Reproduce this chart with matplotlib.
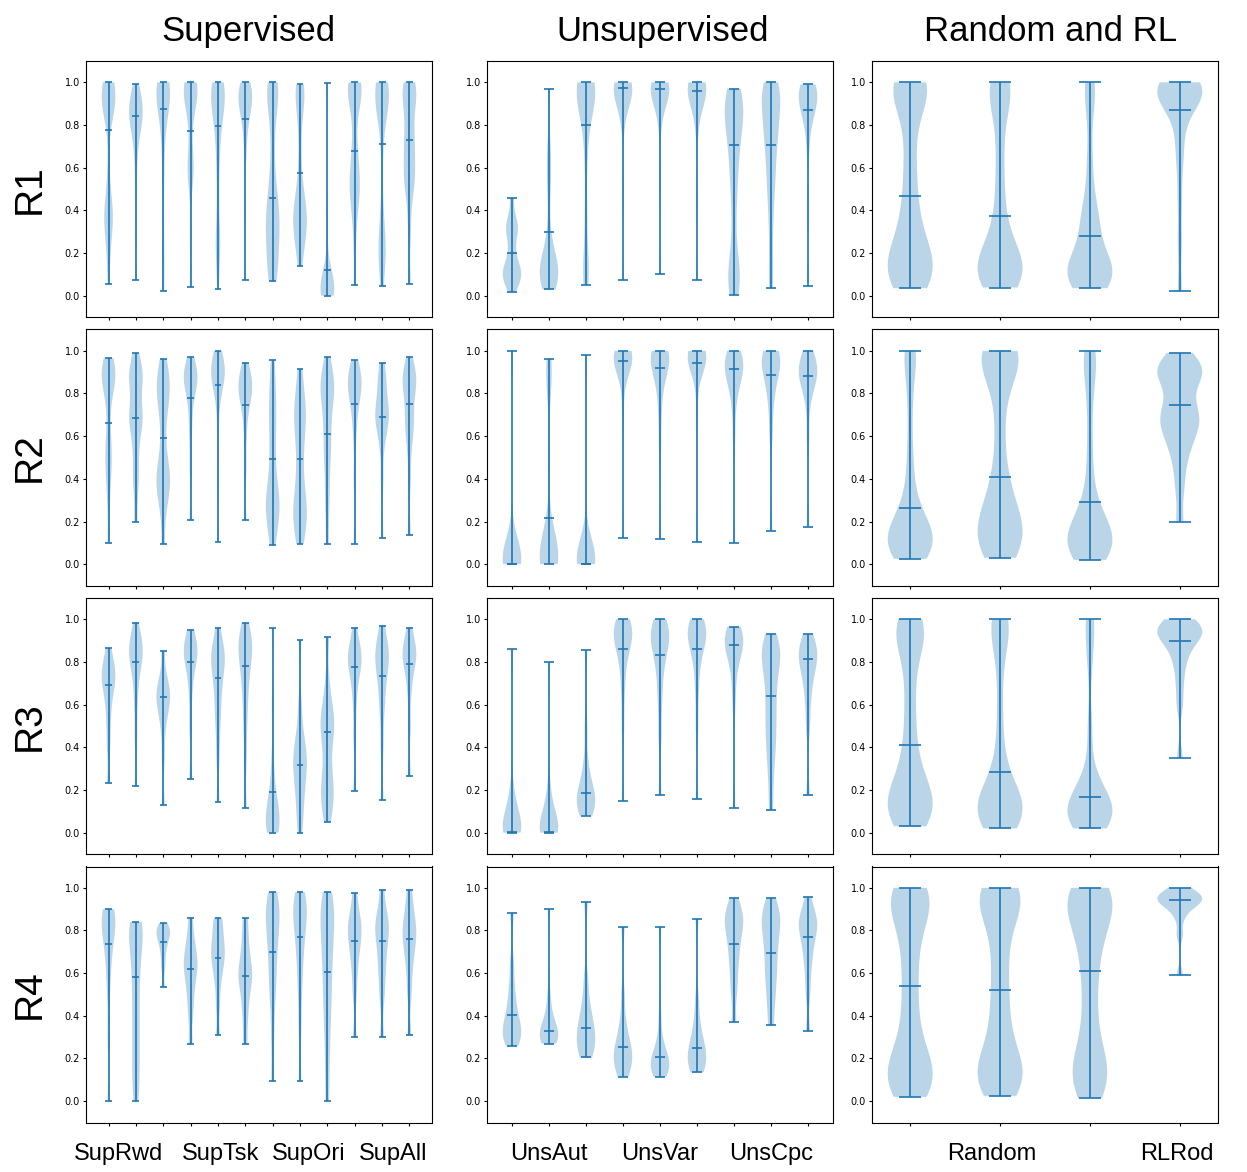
import numpy as np
import matplotlib
matplotlib.use('Agg')
import matplotlib.pyplot as plt
import matplotlib.transforms as mtransforms
from matplotlib import cbook, mlab

plt.rcParams['lines.linewidth'] = 1.2

############ [Data] ##############
# samples per violin, and the mean marker of each violin
r1_sup = [
    [0.055, 0.2, 0.3, 0.34, 0.37, 0.38, 0.4, 0.44, 0.6, 0.85, 0.88, 0.9, 0.92, 0.93, 0.94, 0.95, 0.97, 0.99, 1.0],
    [0.075, 0.3, 0.5, 0.62, 0.7, 0.75, 0.78, 0.8, 0.82, 0.84, 0.85, 0.86, 0.87, 0.88, 0.9, 0.92, 0.94, 0.96, 0.99],
    [0.02, 0.15, 0.3, 0.5, 0.65, 0.75, 0.82, 0.86, 0.89, 0.92, 0.94, 0.95, 0.96, 0.97, 0.98, 0.99, 1.0, 1.0],
    [0.04, 0.3, 0.55, 0.58, 0.6, 0.63, 0.75, 0.85, 0.9, 0.93, 0.95, 0.96, 0.97, 0.98, 0.99, 1.0, 1.0],
    [0.03, 0.2, 0.25, 0.28, 0.45, 0.6, 0.7, 0.78, 0.83, 0.87, 0.9, 0.92, 0.94, 0.96, 0.97, 0.98, 0.99, 1.0],
    [0.075, 0.4, 0.65, 0.75, 0.8, 0.84, 0.87, 0.89, 0.91, 0.92, 0.93, 0.94, 0.95, 0.96, 0.97, 0.98, 1.0],
    [0.07, 0.1, 0.15, 0.2, 0.25, 0.3, 0.33, 0.36, 0.4, 0.44, 0.5, 0.6, 0.75, 0.88, 0.93, 0.96, 0.98, 1.0],
    [0.14, 0.22, 0.27, 0.3, 0.33, 0.35, 0.37, 0.4, 0.43, 0.47, 0.55, 0.7, 0.85, 0.92, 0.95, 0.97, 0.99],
    [0.0, 0.0, 0.0, 0.01, 0.02, 0.03, 0.04, 0.05, 0.06, 0.08, 0.1, 0.35, 0.995],
    [0.05, 0.25, 0.38, 0.43, 0.47, 0.5, 0.53, 0.56, 0.6, 0.65, 0.7, 0.8, 0.9, 0.93, 0.95, 0.97, 0.98, 0.99, 1.0, 1.0],
    [0.045, 0.15, 0.19, 0.22, 0.25, 0.28, 0.4, 0.6, 0.8, 0.86, 0.9, 0.92, 0.94, 0.95, 0.96, 0.97, 0.98, 0.99, 1.0],
    [0.055, 0.3, 0.45, 0.52, 0.55, 0.58, 0.62, 0.68, 0.72, 0.75, 0.8, 0.88, 0.92, 0.95, 0.97, 0.98, 1.0],
]
r1_sup_mean = [0.775, 0.84, 0.875, 0.77, 0.795, 0.83, 0.46, 0.575, 0.12, 0.68, 0.71, 0.73]

r1_uns = [
    [0.015, 0.05, 0.07, 0.09, 0.1, 0.11, 0.13, 0.15, 0.18, 0.22, 0.27, 0.3, 0.32, 0.34, 0.38, 0.46],
    [0.03, 0.06, 0.08, 0.09, 0.1, 0.11, 0.12, 0.14, 0.17, 0.2, 0.3, 0.5, 0.6, 0.7, 0.97],
    [0.05, 0.12, 0.18, 0.4, 0.65, 0.8, 0.87, 0.91, 0.94, 0.96, 0.97, 0.98, 0.99, 1.0, 1.0],
    [0.075, 0.5, 0.8, 0.88, 0.92, 0.94, 0.95, 0.96, 0.97, 0.98, 0.98, 0.99, 0.99, 1.0, 1.0],
    [0.1, 0.55, 0.8, 0.88, 0.92, 0.94, 0.95, 0.96, 0.97, 0.98, 0.98, 0.99, 0.99, 1.0, 1.0],
    [0.075, 0.45, 0.78, 0.87, 0.91, 0.93, 0.95, 0.96, 0.97, 0.98, 0.98, 0.99, 0.99, 1.0, 1.0],
    [0.005, 0.05, 0.08, 0.1, 0.13, 0.25, 0.4, 0.5, 0.58, 0.65, 0.7, 0.75, 0.8, 0.83, 0.86, 0.88, 0.9, 0.92, 0.95, 0.97],
    [0.035, 0.15, 0.3, 0.42, 0.5, 0.56, 0.62, 0.68, 0.72, 0.76, 0.8, 0.83, 0.86, 0.9, 0.93, 0.95, 0.97, 0.99, 1.0],
    [0.045, 0.4, 0.7, 0.8, 0.85, 0.88, 0.9, 0.92, 0.93, 0.94, 0.95, 0.96, 0.97, 0.98, 0.99],
]
r1_uns_mean = [0.2, 0.3, 0.8, 0.975, 0.97, 0.96, 0.705, 0.705, 0.87]

r1_rl = [
    [0.035, 0.05, 0.08, 0.1, 0.12, 0.14, 0.16, 0.18, 0.22, 0.27, 0.33, 0.4, 0.5, 0.6, 0.72, 0.85, 0.93, 0.96, 0.98, 0.99, 1.0, 1.0],
    [0.038, 0.06, 0.08, 0.1, 0.11, 0.12, 0.13, 0.15, 0.17, 0.2, 0.25, 0.32, 0.42, 0.55, 0.7, 0.85, 0.93, 0.97, 0.99, 1.0],
    [0.035, 0.05, 0.07, 0.08, 0.09, 0.1, 0.11, 0.12, 0.13, 0.15, 0.18, 0.22, 0.28, 0.33, 0.36, 0.4, 0.5, 0.65, 0.85, 0.97, 1.0],
    [0.02, 0.25, 0.45, 0.62, 0.7, 0.8, 0.87, 0.9, 0.92, 0.94, 0.95, 0.96, 0.97, 0.97, 0.98, 0.98, 0.99, 1.0, 1.0],
]
r1_rl_mean = [0.465, 0.373, 0.28, 0.87]

r2_sup = [
    [0.1, 0.3, 0.4, 0.45, 0.5, 0.55, 0.6, 0.7, 0.8, 0.84, 0.86, 0.88, 0.89, 0.9, 0.92, 0.94, 0.965],
    [0.2, 0.35, 0.42, 0.5, 0.58, 0.64, 0.67, 0.69, 0.71, 0.75, 0.82, 0.86, 0.88, 0.9, 0.92, 0.99],
    [0.095, 0.25, 0.32, 0.36, 0.39, 0.41, 0.44, 0.5, 0.6, 0.7, 0.76, 0.8, 0.83, 0.86, 0.9, 0.96],
    [0.205, 0.45, 0.6, 0.7, 0.78, 0.82, 0.85, 0.87, 0.88, 0.89, 0.9, 0.92, 0.97],
    [0.105, 0.4, 0.6, 0.75, 0.82, 0.86, 0.88, 0.89, 0.9, 0.91, 0.92, 0.94, 0.97, 1.0],
    [0.205, 0.45, 0.6, 0.7, 0.75, 0.78, 0.8, 0.82, 0.84, 0.86, 0.88, 0.9, 0.945],
    [0.09, 0.16, 0.2, 0.24, 0.27, 0.29, 0.32, 0.36, 0.42, 0.5, 0.58, 0.65, 0.72, 0.78, 0.85, 0.955],
    [0.095, 0.15, 0.2, 0.23, 0.26, 0.3, 0.35, 0.42, 0.5, 0.58, 0.63, 0.68, 0.72, 0.76, 0.82, 0.915],
    [0.095, 0.25, 0.35, 0.45, 0.52, 0.58, 0.64, 0.7, 0.76, 0.8, 0.82, 0.84, 0.87, 0.9, 0.97],
    [0.095, 0.4, 0.6, 0.7, 0.76, 0.8, 0.83, 0.85, 0.86, 0.88, 0.9, 0.955],
    [0.125, 0.4, 0.55, 0.62, 0.66, 0.68, 0.7, 0.72, 0.75, 0.8, 0.85, 0.88, 0.945],
    [0.135, 0.4, 0.55, 0.62, 0.66, 0.7, 0.76, 0.82, 0.85, 0.87, 0.88, 0.9, 0.97],
]
r2_sup_mean = [0.66, 0.685, 0.59, 0.78, 0.84, 0.745, 0.495, 0.495, 0.61, 0.75, 0.69, 0.75]

r2_uns = [
    [0.0, 0.0, 0.0, 0.0, 0.01, 0.02, 0.03, 0.05, 0.08, 0.12, 1.0],
    [0.0, 0.0, 0.0, 0.01, 0.02, 0.03, 0.05, 0.07, 0.1, 0.14, 0.5, 0.85, 0.9, 0.96],
    [0.0, 0.0, 0.0, 0.0, 0.01, 0.02, 0.03, 0.05, 0.08, 0.12, 0.98],
    [0.125, 0.7, 0.85, 0.9, 0.93, 0.95, 0.96, 0.97, 0.97, 0.98, 0.98, 0.99, 1.0, 1.0],
    [0.12, 0.55, 0.7, 0.8, 0.86, 0.9, 0.93, 0.95, 0.96, 0.97, 0.98, 0.99, 1.0, 1.0],
    [0.105, 0.7, 0.88, 0.93, 0.95, 0.96, 0.97, 0.98, 0.98, 0.99, 0.99, 1.0, 1.0],
    [0.1, 0.6, 0.75, 0.82, 0.86, 0.89, 0.91, 0.93, 0.94, 0.95, 0.96, 0.98, 1.0],
    [0.155, 0.6, 0.72, 0.8, 0.85, 0.88, 0.91, 0.94, 0.96, 0.97, 0.98, 0.99, 1.0],
    [0.175, 0.6, 0.75, 0.82, 0.85, 0.87, 0.89, 0.9, 0.91, 0.93, 0.95, 0.98, 1.0],
]
r2_uns_mean = [0.003, 0.215, 0.003, 0.95, 0.92, 0.945, 0.915, 0.885, 0.88]

r2_rl = [
    [0.025, 0.05, 0.07, 0.08, 0.09, 0.1, 0.11, 0.12, 0.13, 0.15, 0.17, 0.2, 0.24, 0.3, 0.4, 0.55, 0.75, 0.92, 0.98, 1.0],
    [0.03, 0.06, 0.09, 0.11, 0.13, 0.15, 0.18, 0.21, 0.25, 0.3, 0.36, 0.45, 0.6, 0.75, 0.88, 0.93, 0.96, 0.98, 0.99, 1.0, 1.0],
    [0.02, 0.05, 0.07, 0.08, 0.09, 0.1, 0.11, 0.12, 0.14, 0.16, 0.19, 0.23, 0.28, 0.38, 0.55, 0.75, 0.9, 0.96, 1.0],
    [0.2, 0.35, 0.45, 0.52, 0.57, 0.6, 0.63, 0.66, 0.68, 0.7, 0.72, 0.75, 0.8, 0.84, 0.87, 0.89, 0.91, 0.92, 0.93, 0.95, 0.99],
]
r2_rl_mean = [0.265, 0.41, 0.29, 0.745]

r3_sup = [
    [0.235, 0.4, 0.5, 0.58, 0.64, 0.68, 0.71, 0.73, 0.75, 0.78, 0.81, 0.865],
    [0.22, 0.45, 0.6, 0.7, 0.76, 0.8, 0.83, 0.85, 0.87, 0.89, 0.92, 0.985],
    [0.13, 0.35, 0.48, 0.55, 0.59, 0.62, 0.64, 0.66, 0.69, 0.73, 0.85],
    [0.25, 0.5, 0.65, 0.74, 0.79, 0.82, 0.84, 0.86, 0.88, 0.9, 0.95],
    [0.145, 0.35, 0.48, 0.56, 0.63, 0.69, 0.74, 0.78, 0.81, 0.83, 0.85, 0.88, 0.96],
    [0.115, 0.35, 0.5, 0.6, 0.68, 0.74, 0.79, 0.83, 0.86, 0.88, 0.9, 0.93, 0.985],
    [0.0, 0.01, 0.02, 0.04, 0.05, 0.07, 0.09, 0.12, 0.16, 0.22, 0.35, 0.6, 0.96],
    [0.0, 0.08, 0.15, 0.2, 0.25, 0.29, 0.32, 0.35, 0.38, 0.42, 0.48, 0.6, 0.905],
    [0.05, 0.12, 0.16, 0.2, 0.24, 0.3, 0.38, 0.44, 0.49, 0.52, 0.55, 0.6, 0.7, 0.915],
    [0.195, 0.45, 0.6, 0.7, 0.75, 0.79, 0.81, 0.83, 0.85, 0.88, 0.96],
    [0.155, 0.4, 0.55, 0.63, 0.7, 0.75, 0.79, 0.82, 0.84, 0.86, 0.9, 0.97],
    [0.265, 0.5, 0.65, 0.73, 0.78, 0.81, 0.83, 0.85, 0.87, 0.9, 0.96],
]
r3_sup_mean = [0.69, 0.8, 0.635, 0.8, 0.725, 0.78, 0.19, 0.315, 0.47, 0.775, 0.735, 0.79]

r3_uns = [
    [0.0, 0.0, 0.0, 0.01, 0.02, 0.03, 0.05, 0.08, 0.12, 0.2, 0.86],
    [0.0, 0.0, 0.0, 0.01, 0.02, 0.03, 0.05, 0.08, 0.12, 0.2, 0.8],
    [0.08, 0.1, 0.12, 0.13, 0.15, 0.16, 0.18, 0.2, 0.23, 0.27, 0.35, 0.5, 0.855],
    [0.15, 0.5, 0.65, 0.75, 0.82, 0.86, 0.89, 0.91, 0.93, 0.94, 0.95, 0.97, 0.99, 1.0],
    [0.175, 0.45, 0.6, 0.7, 0.78, 0.83, 0.87, 0.9, 0.92, 0.93, 0.95, 0.97, 1.0],
    [0.16, 0.5, 0.65, 0.75, 0.82, 0.86, 0.89, 0.91, 0.93, 0.94, 0.95, 0.97, 0.99, 1.0],
    [0.115, 0.6, 0.72, 0.8, 0.84, 0.87, 0.89, 0.9, 0.91, 0.92, 0.94, 0.965],
    [0.105, 0.25, 0.35, 0.42, 0.48, 0.54, 0.6, 0.66, 0.72, 0.77, 0.81, 0.84, 0.86, 0.88, 0.93],
    [0.175, 0.5, 0.62, 0.7, 0.75, 0.79, 0.82, 0.84, 0.86, 0.88, 0.93],
]
r3_uns_mean = [0.003, 0.003, 0.185, 0.86, 0.835, 0.86, 0.88, 0.64, 0.815]

r3_rl = [
    [0.03, 0.06, 0.08, 0.1, 0.12, 0.13, 0.15, 0.17, 0.2, 0.24, 0.3, 0.38, 0.48, 0.6, 0.72, 0.85, 0.9, 0.94, 0.96, 0.98, 1.0],
    [0.02, 0.05, 0.07, 0.08, 0.09, 0.1, 0.11, 0.12, 0.14, 0.16, 0.19, 0.23, 0.3, 0.42, 0.6, 0.8, 0.92, 0.96, 0.99, 1.0],
    [0.02, 0.04, 0.06, 0.07, 0.08, 0.09, 0.1, 0.11, 0.12, 0.13, 0.15, 0.18, 0.22, 0.3, 0.5, 0.8, 0.95, 1.0],
    [0.35, 0.6, 0.7, 0.78, 0.83, 0.87, 0.9, 0.92, 0.93, 0.94, 0.95, 0.96, 0.97, 0.98, 1.0],
]
r3_rl_mean = [0.41, 0.285, 0.165, 0.9]

r4_sup = [
    [0.0, 0.3, 0.5, 0.6, 0.67, 0.72, 0.76, 0.8, 0.82, 0.84, 0.86, 0.88, 0.89, 0.9],
    [0.0, 0.06, 0.12, 0.18, 0.24, 0.3, 0.36, 0.42, 0.48, 0.54, 0.6, 0.65, 0.7, 0.74, 0.77, 0.8, 0.82, 0.83, 0.84],
    [0.535, 0.62, 0.67, 0.71, 0.74, 0.76, 0.78, 0.79, 0.8, 0.82, 0.835],
    [0.27, 0.4, 0.48, 0.54, 0.59, 0.62, 0.65, 0.68, 0.72, 0.77, 0.86],
    [0.31, 0.45, 0.55, 0.61, 0.65, 0.68, 0.71, 0.74, 0.78, 0.83, 0.86],
    [0.27, 0.38, 0.46, 0.52, 0.56, 0.59, 0.62, 0.66, 0.71, 0.78, 0.86],
    [0.095, 0.3, 0.45, 0.53, 0.6, 0.66, 0.72, 0.77, 0.81, 0.85, 0.88, 0.91, 0.95, 0.98],
    [0.095, 0.35, 0.5, 0.6, 0.68, 0.74, 0.79, 0.83, 0.87, 0.9, 0.92, 0.95, 0.98],
    [0.0, 0.15, 0.28, 0.38, 0.46, 0.53, 0.6, 0.66, 0.72, 0.77, 0.82, 0.86, 0.9, 0.94, 0.98],
    [0.3, 0.5, 0.6, 0.67, 0.72, 0.76, 0.79, 0.82, 0.85, 0.89, 0.975],
    [0.3, 0.48, 0.57, 0.64, 0.7, 0.75, 0.79, 0.82, 0.85, 0.89, 0.99],
    [0.31, 0.5, 0.6, 0.67, 0.72, 0.76, 0.79, 0.82, 0.86, 0.91, 0.99],
]
r4_sup_mean = [0.735, 0.58, 0.745, 0.62, 0.67, 0.585, 0.7, 0.77, 0.605, 0.75, 0.75, 0.76]

r4_uns = [
    [0.26, 0.28, 0.3, 0.32, 0.34, 0.36, 0.39, 0.43, 0.48, 0.55, 0.65, 0.88],
    [0.27, 0.28, 0.29, 0.3, 0.31, 0.32, 0.33, 0.35, 0.38, 0.42, 0.5, 0.9],
    [0.205, 0.22, 0.25, 0.28, 0.3, 0.32, 0.35, 0.38, 0.42, 0.48, 0.58, 0.935],
    [0.115, 0.14, 0.17, 0.19, 0.21, 0.23, 0.25, 0.28, 0.32, 0.38, 0.5, 0.815],
    [0.115, 0.13, 0.15, 0.16, 0.17, 0.18, 0.19, 0.21, 0.24, 0.28, 0.4, 0.815],
    [0.135, 0.15, 0.17, 0.19, 0.21, 0.23, 0.25, 0.28, 0.32, 0.38, 0.48, 0.855],
    [0.37, 0.5, 0.58, 0.65, 0.7, 0.75, 0.79, 0.82, 0.85, 0.87, 0.9, 0.95],
    [0.355, 0.45, 0.52, 0.58, 0.63, 0.68, 0.73, 0.77, 0.81, 0.84, 0.87, 0.9, 0.95],
    [0.33, 0.5, 0.6, 0.67, 0.72, 0.76, 0.8, 0.82, 0.84, 0.86, 0.89, 0.955],
]
r4_uns_mean = [0.405, 0.33, 0.345, 0.255, 0.205, 0.25, 0.735, 0.695, 0.77]

r4_rl = [
    [0.02, 0.05, 0.08, 0.1, 0.12, 0.14, 0.17, 0.21, 0.27, 0.35, 0.45, 0.55, 0.65, 0.75, 0.83, 0.88, 0.92, 0.95, 0.97, 0.99, 1.0],
    [0.025, 0.06, 0.09, 0.11, 0.13, 0.15, 0.18, 0.23, 0.3, 0.38, 0.47, 0.56, 0.66, 0.76, 0.85, 0.9, 0.94, 0.96, 0.98, 0.99, 1.0],
    [0.015, 0.05, 0.09, 0.12, 0.15, 0.18, 0.23, 0.3, 0.4, 0.5, 0.6, 0.68, 0.75, 0.8, 0.85, 0.88, 0.91, 0.94, 0.96, 0.98, 1.0, 1.0],
    [0.59, 0.78, 0.86, 0.9, 0.92, 0.93, 0.94, 0.95, 0.95, 0.96, 0.97, 0.98, 1.0],
]
r4_rl_mean = [0.54, 0.52, 0.61, 0.945]

col_titles = ['Supervised', 'Unsupervised', 'Random and RL']
row_names = ['R1', 'R2', 'R3', 'R4']
sup_labels = ['SupRwd', 'SupTsk', 'SupOri', 'SupAll']
uns_labels = ['UnsAut', 'UnsVar', 'UnsCpc']
rl_labels = ['Random', 'RLRod']
sup_label_pos = [1.38, 5.1, 8.33, 11.39]
uns_label_pos = [2, 5, 8]
rl_label_pos = [1.91, 3.97]

panels = [
    [(r1_sup, r1_sup_mean), (r1_uns, r1_uns_mean), (r1_rl, r1_rl_mean)],
    [(r2_sup, r2_sup_mean), (r2_uns, r2_uns_mean), (r2_rl, r2_rl_mean)],
    [(r3_sup, r3_sup_mean), (r3_uns, r3_uns_mean), (r3_rl, r3_rl_mean)],
    [(r4_sup, r4_sup_mean), (r4_uns, r4_uns_mean), (r4_rl, r4_rl_mean)],
]
bottom_labels = [(sup_labels, sup_label_pos), (uns_labels, uns_label_pos), (rl_labels, rl_label_pos)]

BW = 0.3


def kde(x, coords):
    return mlab.GaussianKDE(x, BW).evaluate(coords)


def draw_violins(ax, samples, means):
    stats = cbook.violin_stats(samples, kde)
    for s, m in zip(stats, means):
        s['mean'] = m
    ax.violin(stats, positions=list(range(1, len(samples) + 1)), widths=0.5,
              showmeans=True, showextrema=True, showmedians=False)


W, H = 1247, 1172
fig = plt.figure(figsize=(W / 100, H / 100), dpi=100)

col_left = [86, 487, 872]
row_top = [61, 329.5, 598, 866.5]
ax_w, ax_h = 346, 256
title_x = [248, 663, 1051]

for i in range(4):
    for j in range(3):
        ax = fig.add_axes([col_left[j] / W, 1 - (row_top[i] + ax_h) / H, ax_w / W, ax_h / H])
        samples, means = panels[i][j]
        draw_violins(ax, samples, means)
        ax.set_ylim(-0.1, 1.1)
        ax.set_yticks([0.0, 0.2, 0.4, 0.6, 0.8, 1.0])
        ax.set_xticks(list(range(1, len(samples) + 1)))
        ax.set_xticklabels([])
        ax.tick_params(axis='both', length=2.5, width=0.8, pad=2, labelsize=7)
        if i == 3:
            labels, pos = bottom_labels[j]
            trans = mtransforms.blended_transform_factory(ax.transData, ax.transAxes)
            for lbl, x in zip(labels, pos):
                ax.text(x, -37.5 / ax_h, lbl, transform=trans, ha='center', va='baseline',
                        fontsize=17, family='Liberation Sans')
        if j == 0:
            fig.text(30 / W, 1 - (row_top[i] + ax_h / 2) / H, row_names[i], rotation=90,
                     ha='center', va='center', fontsize=28, family='Liberation Sans')

for j in range(3):
    fig.text(title_x[j] / W, 1 - 41 / H, col_titles[j], ha='center', va='baseline',
             fontsize=25, family='Liberation Sans')

fig.savefig('out.png', dpi=100)
